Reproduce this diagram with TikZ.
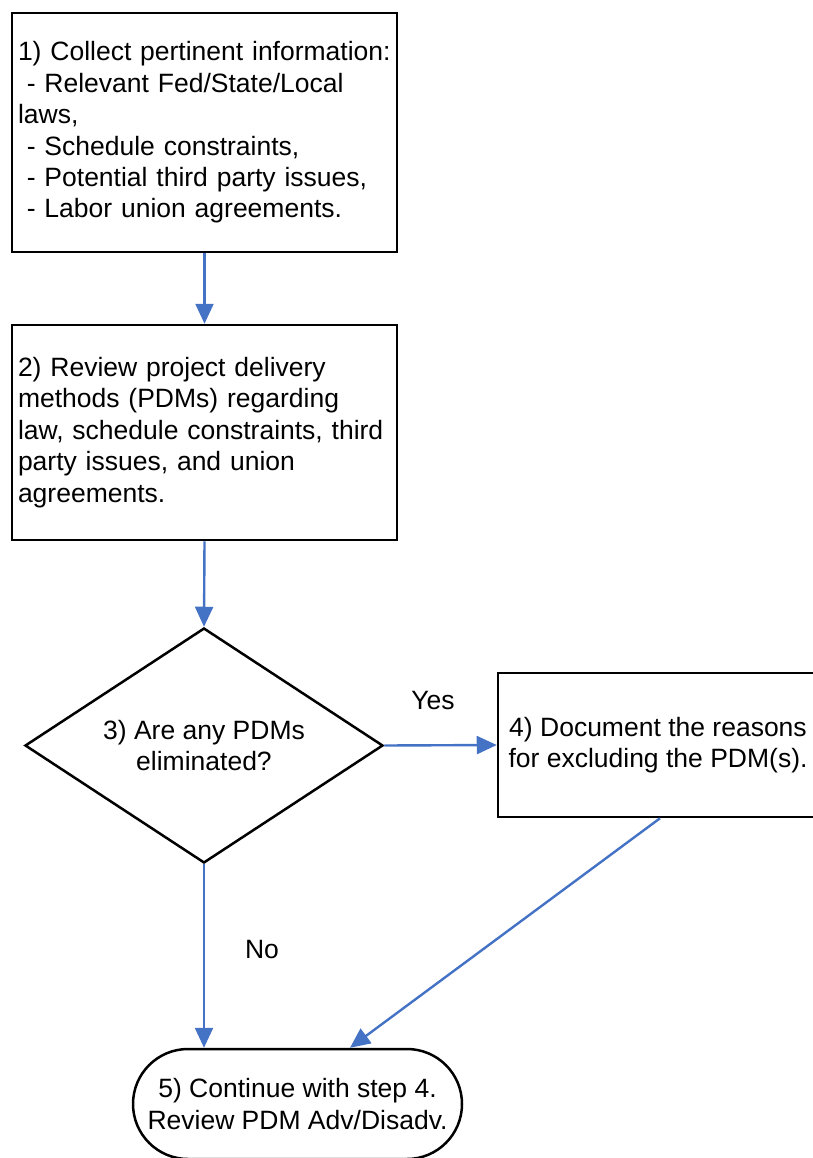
\documentclass[tikz,border=0pt]{standalone}
\usepackage{fontspec}
\setmainfont{Liberation Sans}
\usetikzlibrary{shapes.geometric,shapes.misc,arrows.meta}
\definecolor{arrowblue}{HTML}{4472C4}
\begin{document}
\begin{tikzpicture}[x=1pt,y=-1pt,
  every node/.style={font=\fontsize{26.5}{31.4}\selectfont},
  boxstyle/.style={draw=black,line width=2.5pt,rectangle,inner xsep=6pt,inner ysep=0pt,align=left},
  decstyle/.style={draw=black,line width=2.5pt,diamond,aspect=1.52,inner sep=0pt,align=center,minimum width=358pt,minimum height=235pt},
  termstyle/.style={draw=black,line width=2.5pt,rounded rectangle,inner sep=0pt,align=center,minimum width=329pt,minimum height=110pt},
  flow/.style={draw=arrowblue,line width=2.4pt,-{Triangle[length=20pt,width=18pt]}},
  lbl/.style={inner sep=0pt}]
\useasboundingbox (0,0) rectangle (813,1158);
\node[boxstyle,minimum width=385pt,minimum height=239pt,text width=373pt] (b1) at (204.5,132.5)
 {1) Collect pertinent information:\\\ - Relevant Fed/State/Local\\laws,\\\ - Schedule constraints,\\\ - Potential third party issues,\\\ - Labor union agreements.};
\node[boxstyle,minimum width=385pt,minimum height=215pt,text width=373pt] (b2) at (204.5,432.5)
 {2) Review project delivery\\methods (PDMs) regarding\\law, schedule constraints, third\\party issues, and union\\agreements.};
\node[decstyle] (d3) at (204,745.5) {3) Are any PDMs\\eliminated?};
\node[boxstyle,align=center,minimum width=320pt,minimum height=144pt] (b4) at (658,745) {4) Document the reasons\\for excluding the PDM(s).};
\node[termstyle] (t5) at (297.5,1104) {5) Continue with step 4.\\Review PDM Adv/Disadv.};
\node[lbl] (yes) at (433,701) {Yes};
\node[lbl] (no) at (262,950) {No};
\draw[flow] (b1.south) -- (b2.north);
\draw[flow] (b2.south) -- (d3.north);
\draw[flow] (d3.east) -- (b4.west);
\draw[flow] (d3.south) -- (d3.south |- t5.north);
\coordinate (t5in) at ([xshift=52.5pt]t5.north);
\draw[flow] ([xshift=2pt]b4.south) -- (t5in);
\end{tikzpicture}
\end{document}
